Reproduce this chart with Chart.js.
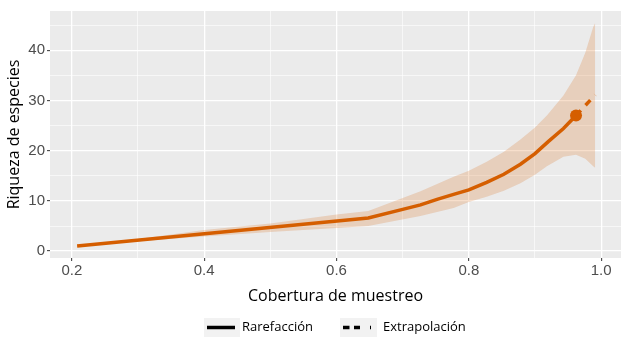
<!DOCTYPE html>
<html>
<head>
<meta charset="utf-8">
<script src="https://cdn.jsdelivr.net/npm/chart.js@4/dist/chart.umd.min.js"></script>
<style>
  body { margin: 0; background: #fff; }
  canvas { display: block; }
</style>
</head>
<body>
<canvas id="chart" width="627" height="351"></canvas>
<script>
// sample coverage (x) vs. species richness (y)
const rareCoverage = [0.208, 0.648, 0.700, 0.727, 0.752, 0.777, 0.800, 0.827, 0.853, 0.878, 0.900, 0.920, 0.943, 0.962];
const rareRichness = [1.0, 6.6, 8.3, 9.2, 10.3, 11.3, 12.2, 13.7, 15.3, 17.3, 19.4, 21.8, 24.4, 27.0];
const extraCoverage = [0.962, 0.991];
const extraRichness = [27.0, 31.1];
const observedCoverage = [0.962];
const observedRichness = [27.0];

// confidence band
const bandCoverage = [0.208, 0.3, 0.4, 0.5, 0.6, 0.648, 0.727, 0.777, 0.800, 0.827, 0.853, 0.878, 0.900, 0.918, 0.943, 0.962, 0.976, 0.988, 0.991];
const bandUpper = [1.1, 2.4, 4.2, 5.5, 7.3, 8.0, 11.9, 14.8, 16.0, 17.8, 19.8, 22.2, 24.6, 27.0, 31.0, 35.0, 39.5, 44.6, 45.4];
const bandLower = [0.9, 1.95, 2.9, 3.8, 4.6, 5.0, 7.0, 8.6, 9.8, 10.8, 12.0, 13.5, 15.2, 16.9, 18.8, 19.2, 18.4, 16.9, 16.6];

const xTicks = [0.2, 0.3, 0.4, 0.5, 0.6, 0.7, 0.8, 0.9, 1.0];
const yTicks = [0, 5, 10, 15, 20, 25, 30, 35, 40, 45];
const legendLabels = ['Rarefacción', 'Extrapolación'];

const orange = '#D55E00';
const bandFill = 'rgba(213, 94, 0, 0.2)';
const tickFont = { family: '"Liberation Sans", Arial, sans-serif', size: 15 };
const titleFont = { family: '"Open Sans", sans-serif', size: 16 };

const pts = (xs, ys) => xs.map((x, i) => ({ x: x, y: ys[i] }));
const isMajorX = v => Math.round(v * 10) % 2 === 0;
const isMajorY = v => Math.round(v) % 10 === 0;

const panelBg = {
    id: 'panelBg',
    beforeDraw(chart) {
        const { ctx, chartArea: a } = chart;
        ctx.save();
        ctx.fillStyle = '#EBEBEB';
        ctx.fillRect(a.left, a.top, a.right - a.left, a.bottom - a.top);
        ctx.restore();
    }
};

// ggplot style legend under the plot
const bottomLegend = {
    id: 'bottomLegend',
    afterDraw(chart) {
        const ctx = chart.ctx;
        const keys = [
            { x: 204, w: 36, textX: 242, dash: [] },
            { x: 340, w: 37, textX: 383, dash: [6.5, 4.5, 6, 10] }
        ];
        ctx.save();
        keys.forEach((k, i) => {
            ctx.fillStyle = '#F2F2F2';
            ctx.fillRect(k.x, 318, k.w, 19);
            ctx.strokeStyle = '#000';
            ctx.lineWidth = 3.5;
            ctx.setLineDash(k.dash);
            ctx.beginPath();
            ctx.moveTo(k.x + 3, 327.5);
            ctx.lineTo(k.x + 31, 327.5);
            ctx.stroke();
            ctx.setLineDash([]);
            ctx.fillStyle = '#000';
            ctx.font = '13px "Open Sans", sans-serif';
            ctx.textBaseline = 'middle';
            ctx.fillText(legendLabels[i], k.textX, 327);
        });
        ctx.restore();
    }
};

new Chart(document.getElementById('chart'), {
    type: 'line',
    data: {
        datasets: [
            {
                label: 'upper',
                data: pts(bandCoverage, bandUpper),
                borderColor: 'rgba(0,0,0,0)',
                backgroundColor: bandFill,
                pointRadius: 0,
                fill: false
            },
            {
                label: 'lower',
                data: pts(bandCoverage, bandLower),
                borderColor: 'rgba(0,0,0,0)',
                backgroundColor: bandFill,
                pointRadius: 0,
                fill: '-1'
            },
            {
                label: legendLabels[0],
                data: pts(rareCoverage, rareRichness),
                borderColor: orange,
                borderWidth: 3.5,
                pointRadius: 0,
                fill: false
            },
            {
                label: legendLabels[1],
                data: pts(extraCoverage, extraRichness),
                borderColor: orange,
                borderWidth: 3.5,
                borderDash: [7, 7],
                pointRadius: 0,
                fill: false
            },
            {
                label: 'observed',
                data: pts(observedCoverage, observedRichness),
                showLine: false,
                pointRadius: 6,
                pointBorderWidth: 0,
                pointBackgroundColor: orange,
                borderColor: orange
            }
        ]
    },
    options: {
        responsive: false,
        animation: false,
        devicePixelRatio: 1,
        layout: { padding: { top: 6, right: 6, left: 0, bottom: 41 } },
        plugins: { legend: { display: false }, tooltip: { enabled: false } },
        scales: {
            x: {
                type: 'linear',
                min: 0.167,
                max: 1.030,
                afterBuildTicks: s => { s.ticks = xTicks.map(v => ({ value: v })); },
                afterFit: s => { s.height = 52; },
                ticks: {
                    autoSkip: false,
                    maxRotation: 0,
                    padding: 1,
                    color: '#4D4D4D',
                    font: tickFont,
                    callback: v => isMajorX(v) ? v.toFixed(1) : ''
                },
                grid: {
                    color: '#FFFFFF',
                    lineWidth: c => isMajorX(c.tick.value) ? 1.3 : 0.6,
                    tickLength: 3,
                    tickWidth: 1,
                    tickColor: c => isMajorX(c.tick.value) ? '#333333' : 'rgba(0,0,0,0)'
                },
                border: { display: false },
                title: {
                    display: true,
                    text: 'Cobertura de muestreo',
                    color: '#000',
                    font: titleFont,
                    padding: { top: 4, bottom: 4 }
                }
            },
            y: {
                type: 'linear',
                min: -1.37,
                max: 47.8,
                afterBuildTicks: s => { s.ticks = yTicks.map(v => ({ value: v })); },
                afterFit: s => { s.width = 50; },
                ticks: {
                    padding: 2,
                    color: '#4D4D4D',
                    font: tickFont,
                    callback: v => isMajorY(v) ? String(v) : ''
                },
                grid: {
                    color: '#FFFFFF',
                    lineWidth: c => isMajorY(c.tick.value) ? 1.3 : 0.6,
                    tickLength: 3,
                    tickWidth: 1,
                    tickColor: c => isMajorY(c.tick.value) ? '#333333' : 'rgba(0,0,0,0)'
                },
                border: { display: false },
                title: {
                    display: true,
                    text: 'Riqueza de especies',
                    color: '#000',
                    font: titleFont,
                    padding: { top: 5, bottom: 0 }
                }
            }
        }
    },
    plugins: [panelBg, bottomLegend]
});
</script>
</body>
</html>
